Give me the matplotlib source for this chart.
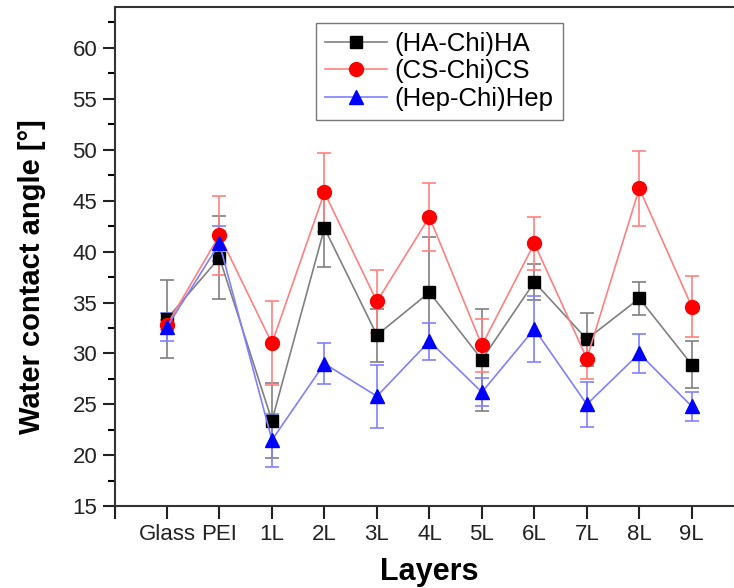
"""
Water contact angle vs. number of layers for three multilayer systems
"""
import matplotlib
matplotlib.use("Agg")
import matplotlib.pyplot as plt
from matplotlib.lines import Line2D
from matplotlib.ticker import MultipleLocator

plt.rcParams['font.family'] = ['Liberation Sans', 'DejaVu Sans']

# Data
layers = ['Glass', 'PEI', '1L', '2L', '3L', '4L', '5L', '6L', '7L', '8L', '9L']

ha_mean = [33.4, 39.4, 23.4, 42.3, 31.8, 36.0, 29.4, 37.0, 31.4, 35.4, 28.9]
ha_err = [3.8, 4.1, 3.7, 3.8, 2.6, 5.4, 5.0, 1.8, 2.6, 1.6, 2.3]

cs_mean = [32.8, 41.6, 31.0, 45.8, 35.1, 43.4, 30.8, 40.8, 29.5, 46.2, 34.6]
cs_err = [0.5, 3.9, 4.1, 3.9, 3.1, 3.3, 2.6, 2.6, 2.0, 3.7, 3.0]

hep_mean = [32.6, 40.8, 21.5, 29.0, 25.8, 31.2, 26.2, 32.4, 25.0, 30.0, 24.8]
hep_err = [1.4, 1.7, 2.6, 2.0, 3.1, 1.8, 1.4, 3.2, 2.2, 1.9, 1.4]

x = list(range(1, len(layers) + 1))

fig = plt.figure(figsize=(7.34, 5.88), dpi=100)
# axes run past the right edge of the figure, as in the cropped original
ax = fig.add_axes([0.156, 0.139, 0.858, 0.849])

series = [
    (ha_mean, ha_err, '(HA-Chi)HA', 'black', '#808080', 's', 9),
    (cs_mean, cs_err, '(CS-Chi)CS', 'red', '#ff8080', 'o', 10),
    (hep_mean, hep_err, '(Hep-Chi)Hep', 'blue', '#8080ff', '^', 10),
]
handles = []
for mean, err, label, mcol, lcol, mk, ms in series:
    ax.errorbar(x, mean, yerr=err, color=lcol, ecolor=lcol, linewidth=1.2,
                elinewidth=1.2, capsize=5, capthick=1.2,
                marker=mk, markersize=ms, markerfacecolor=mcol,
                markeredgecolor=mcol)
    handles.append(Line2D([], [], color=lcol, linewidth=1.2, marker=mk,
                          markersize=ms, markerfacecolor=mcol,
                          markeredgecolor=mcol, label=label))

ax.set_xlim(0, 12)
ax.set_ylim(15, 64)
ax.set_xticks(range(0, 12))
ax.set_xticklabels([''] + layers)
ax.yaxis.set_major_locator(MultipleLocator(5))
ax.yaxis.set_minor_locator(MultipleLocator(2.5))
ax.tick_params(axis='both', which='major', direction='out', length=9,
               width=1.5, labelsize=16, colors='#222222')
ax.tick_params(axis='y', which='minor', direction='out', length=5, width=1.5)

for side in ['left', 'bottom', 'top']:
    ax.spines[side].set_linewidth(1.5)
    ax.spines[side].set_color('#333333')
ax.spines['right'].set_visible(False)

ax.set_xlabel('Layers', fontsize=22, fontweight='bold', labelpad=9)
ax.set_ylabel('Water contact angle [°]', fontsize=21, fontweight='bold')
ax.yaxis.set_label_coords(-0.108, 0.46)

leg = ax.legend(handles=handles, loc='upper left',
                bbox_to_anchor=(0.3, 0.993), fontsize=18.5, frameon=True,
                fancybox=False, edgecolor='#555555', handlelength=2.4,
                handletextpad=0.3, borderpad=0.35, labelspacing=0.12)
leg.get_frame().set_linewidth(1.0)

fig.savefig('out.png', dpi=100)
